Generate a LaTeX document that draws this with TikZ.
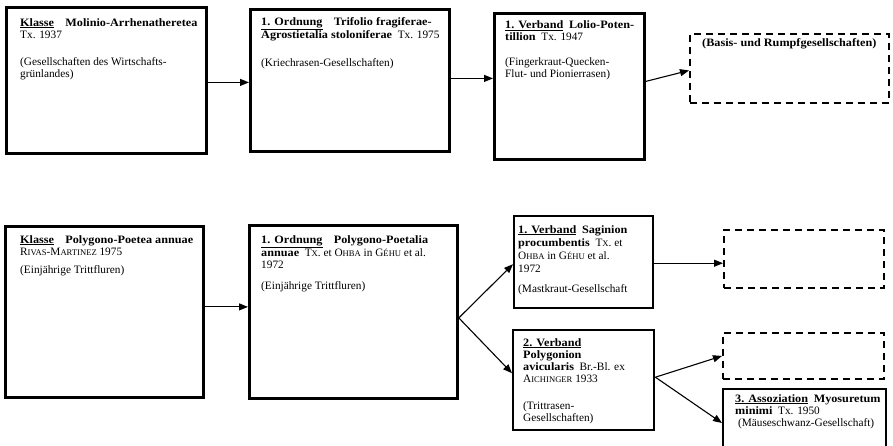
\documentclass[tikz,border=0pt]{standalone}
\usepackage{fontspec}
\setmainfont{Liberation Serif}[BoldFeatures={FakeStretch=1.08}]
\usetikzlibrary{arrows.meta,calc}
\newcommand\smc[1]{{\fontsize{8.6}{9}\selectfont #1}}
\newcommand\hd[1]{\underline{\textbf{#1}}}
\begin{document}
\begin{tikzpicture}[x=1pt,y=-1pt,
  box/.style={draw,line width=2.8pt,anchor=north west,inner sep=0pt,minimum width=#1},
  dbox/.style={draw,line width=1.9pt,dash pattern=on 7pt off 5pt,anchor=north west,inner sep=0pt},
  txt/.style={anchor=north west,inner sep=0pt,align=left,font=\fontsize{11.3}{12}\selectfont},
  arr/.style={line width=1.1pt,-{Triangle[length=9pt,width=7pt]}}]
\useasboundingbox (0,0) rectangle (893,445);
% top row
\node[box=200pt,minimum height=146pt] (A) at (5,6) {};
\node[box=199pt,minimum height=142pt] (B) at (249,8) {};
\node[box=150pt,minimum height=146pt] (C) at (493,12) {};
\node[dbox,minimum width=199pt,minimum height=69pt] (D) at (689,33) {};
\node[txt] (At) at ([shift={(15pt,-12pt)}]A.north west)
 {\hd{Klasse}\quad\textbf{Molinio-Arrhenatheretea}\\Tx. 1937\\[15pt]
  (Gesellschaften des Wirtschafts-\\grünlandes)};
\node[txt] (Bt) at ([shift={(12pt,-9pt)}]B.north west)
 {\hd{1. Ordnung}\quad\textbf{Trifolio fragiferae-}\\\textbf{Agrostietalia stoloniferae}\ \ Tx. 1975\\[16pt]
  (Kriechrasen-Gesellschaften)};
\node[txt] (Ct) at ([shift={(12pt,-8.5pt)}]C.north west)
 {\hd{1. Verband}\ \ \textbf{Lolio-Poten-}\\\textbf{tillion}\ \ Tx. 1947\\[13pt]
  (Fingerkraut-Quecken-\\Flut- und Pionierrasen)};
\node[txt] (Dt) at ([shift={(13pt,-5pt)}]D.north west)
 {\textbf{(Basis- und Rumpfgesellschaften)}};
% bottom row
\node[box=198pt,minimum height=171pt] (E) at (4,225) {};
\node[box=208pt,minimum height=173pt] (F) at (248,224) {};
\node[box=139pt,minimum height=92pt,line width=2.4pt] (G) at (513,215) {};
\node[dbox,minimum width=160pt,minimum height=58pt] (H) at (723,229) {};
\node[box=141pt,minimum height=100pt,line width=2.4pt] (I) at (512,329) {};
\node[dbox,minimum width=161pt,minimum height=46pt] (J) at (722,332) {};
\node[box=163pt,minimum height=64pt,line width=2pt] (K) at (722,388) {};
\node[txt] (Et) at ([shift={(16pt,-10pt)}]E.north west)
 {\hd{Klasse}\quad\textbf{Polygono-Poetea annuae}\\R\smc{IVAS}-M\smc{ARTINEZ} 1975\\[6pt]
  (Einjährige Trittfluren)};
\node[txt] (Ft) at ([shift={(13pt,-11pt)}]F.north west)
 {\hd{1. Ordnung}\quad\textbf{Polygono-Poetalia}\\\textbf{annuae}\ \ T\smc{X}. et O\smc{HBA} in G\smc{ÉHU} et al.\\1972\\[9pt]
  (Einjährige Trittfluren)};
\node[txt,font=\fontsize{11.3}{13}\selectfont] (Gt) at ([shift={(5pt,-10pt)}]G.north west)
 {\hd{1. Verband}\ \ \textbf{Saginion}\\\textbf{procumbentis}\ \ T\smc{X}. et\\O\smc{HBA} in G\smc{ÉHU} et al.\\1972\\[7pt]
  (Mastkraut-Gesellschaft};
\node[txt] (It) at ([shift={(11pt,-9pt)}]I.north west)
 {\hd{2. Verband}\\\textbf{Polygonion}\\\textbf{avicularis}\ \ Br.-Bl. ex\\A\smc{ICHINGER} 1933\\[15pt]
  (Trittrasen-\\Gesellschaften)};
\node[txt] (Kt) at ([shift={(13pt,-6pt)}]K.north west)
 {\hd{3. Assoziation}\ \ \textbf{Myosuretum}\\\textbf{minimi}\ \ Tx. 1950\\\ (Mäuseschwanz-Gesellschaft)};
% connectors
\draw[arr] ([yshift=-2pt]A.east) -- ([yshift=-2pt]A.east -| B.west);
\draw[arr] ([yshift=2pt]B.east) -- ([yshift=2pt]B.east -| C.west);
\draw[arr] ([yshift=5pt]C.east) -- ([yshift=-2pt]D.west);
\draw[arr] ([yshift=5pt]E.east) -- ([yshift=5pt]E.east -| F.west);
\coordinate (br) at ([yshift=-6pt]F.east);
\draw[arr] (br) -- ([yshift=-2pt]G.west);
\draw[arr] (br) -- ([yshift=7pt]I.west);
\draw[arr] ([yshift=-1pt]G.east) -- ([yshift=-1pt]G.east -| H.west);
\coordinate (ib) at ([yshift=3pt]I.east);
\draw[arr] (ib) -- (J.west);
\draw[arr] (ib) -- ([yshift=-2pt]K.west);
\end{tikzpicture}
\end{document}
